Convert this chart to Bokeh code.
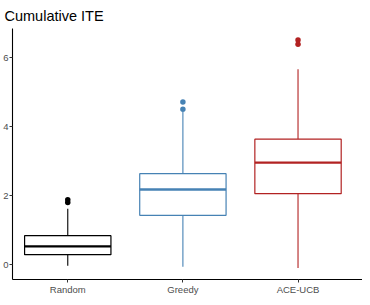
from bokeh.plotting import figure
from bokeh.models import Range1d, FixedTicker, ColumnDataSource
from bokeh.embed import file_html
from bokeh.resources import INLINE

categories = ["Random", "Greedy", "ACE-UCB"]
colors = ["#000000", "#4682B4", "#B22222"]
q1 = [0.29, 1.43, 2.06]
median = [0.53, 2.18, 2.96]
q3 = [0.84, 2.64, 3.64]
whisker_low = [-0.03, -0.06, -0.10]
whisker_high = [1.62, 4.43, 5.67]
outlier_group = [0, 0, 1, 1, 2, 2]
outlier_value = [1.80, 1.88, 4.51, 4.72, 6.39, 6.52]
y_ticks = [0, 2, 4, 6]

pos = [i + 1 for i in range(len(categories))]
half = 0.375

src = ColumnDataSource(dict(
    x=pos,
    left=[p - half for p in pos],
    right=[p + half for p in pos],
    q1=q1, q3=q3, med=median, lo=whisker_low, hi=whisker_high, color=colors,
))

p = figure(width=362, height=297, output_backend="svg", toolbar_location=None,
           x_range=Range1d(0.52, 3.56), y_range=Range1d(-0.43, 6.85),
           title="Cumulative ITE", min_border_left=0, min_border_right=0,
           min_border_top=0, min_border_bottom=0)
p.background_fill_color = "white"
p.border_fill_color = "white"
p.outline_line_color = None
p.grid.visible = False

p.title.text_font = "Liberation Sans"
p.title.text_font_size = "14.5px"
p.title.text_font_style = "normal"
p.title.text_color = "#000000"
p.title.text_line_height = 1.0
p.title.offset = -8
p.title.standoff = 10

# whiskers
p.segment(x0="x", y0="q3", x1="x", y1="hi", line_color="color", line_width=1.1, source=src)
p.segment(x0="x", y0="lo", x1="x", y1="q1", line_color="color", line_width=1.1, source=src)
# boxes
p.quad(left="left", right="right", bottom="q1", top="q3", fill_color="white",
       line_color="color", line_width=1.2, source=src)
# medians
p.segment(x0="left", y0="med", x1="right", y1="med", line_color="color", line_width=2.4, source=src)
# outliers
p.scatter(x=[pos[g] for g in outlier_group], y=outlier_value,
          color=[colors[g] for g in outlier_group], size=5.5, line_width=0)

for ax in (p.xaxis[0], p.yaxis[0]):
    ax.axis_label = None
    ax.axis_line_color = "#000000"
    ax.axis_line_width = 1.1
    ax.major_tick_line_color = "#333333"
    ax.major_tick_in = 0
    ax.major_tick_out = 3
    ax.minor_tick_line_color = None
    ax.major_label_text_font = "Liberation Sans"
    ax.major_label_text_font_size = "9.5px"
    ax.major_label_text_color = "#4D4D4D"
    ax.major_label_standoff = 1

p.xaxis.ticker = FixedTicker(ticks=pos)
p.xaxis.major_label_overrides = {pos[i]: categories[i] for i in range(len(categories))}
p.yaxis.ticker = FixedTicker(ticks=y_ticks)

open("out.html", "w").write(file_html(p, INLINE))
